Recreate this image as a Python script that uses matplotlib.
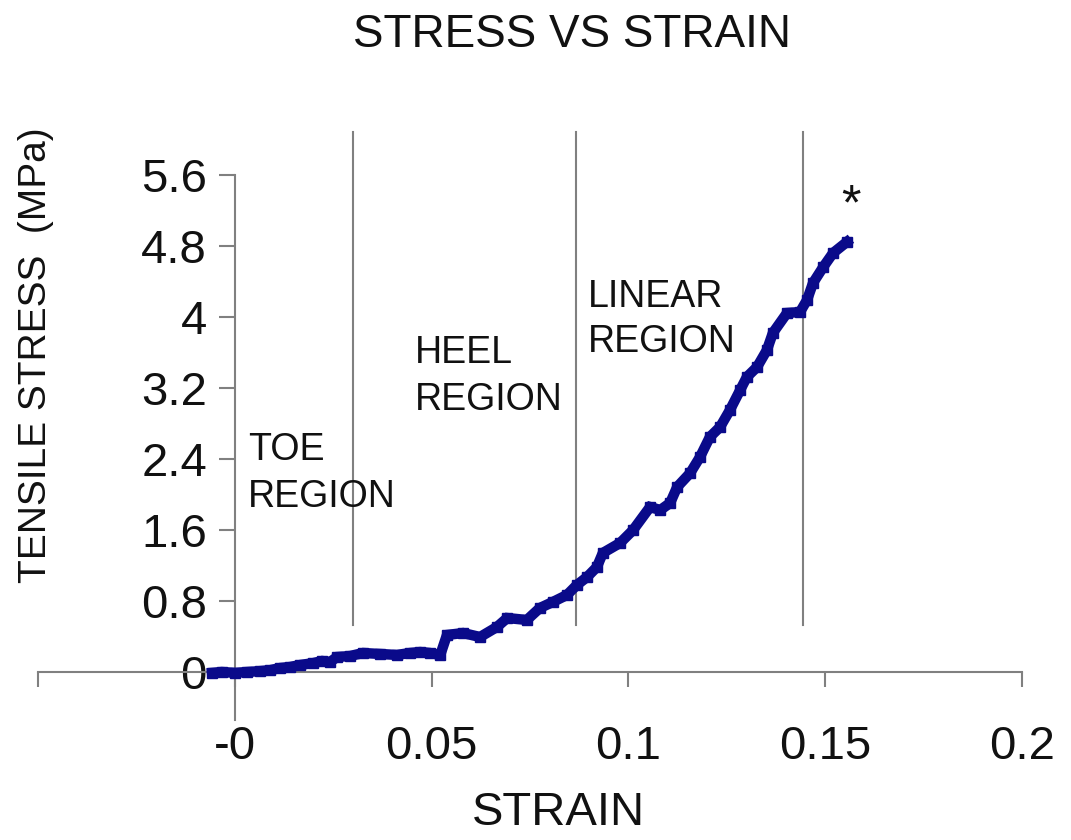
import matplotlib
matplotlib.use("Agg")
import matplotlib.pyplot as plt

plt.rcParams['font.family'] = ['Liberation Sans', 'DejaVu Sans']

# ---- data ----
strain = [-0.0058, -0.0033, 0.0001, 0.0031, 0.0064, 0.0089, 0.0115, 0.0140,
          0.0166, 0.0199, 0.0222, 0.0242, 0.0260, 0.0293, 0.0326, 0.0369,
          0.0412, 0.0445, 0.0471, 0.0496, 0.0522, 0.0539, 0.0580, 0.0623,
          0.0666, 0.0692, 0.0742, 0.0775, 0.0808, 0.0844, 0.0869, 0.0895,
          0.0920, 0.0935, 0.0979, 0.1012, 0.1055, 0.1081, 0.1106, 0.1124,
          0.1157, 0.1182, 0.1207, 0.1233, 0.1258, 0.1284, 0.1301, 0.1327,
          0.1352, 0.1367, 0.1403, 0.1436, 0.1454, 0.1469, 0.1495, 0.1520,
          0.1555]
stress = [-0.01, 0.00, -0.01, 0.00, 0.01, 0.02, 0.045, 0.056,
          0.079, 0.10, 0.124, 0.113, 0.169, 0.18, 0.214, 0.203,
          0.192, 0.214, 0.225, 0.214, 0.192, 0.417, 0.439, 0.394,
          0.507, 0.608, 0.586, 0.721, 0.789, 0.868, 0.98, 1.07,
          1.183, 1.341, 1.454, 1.60, 1.859, 1.825, 1.904, 2.085,
          2.242, 2.423, 2.648, 2.761, 2.952, 3.177, 3.324, 3.437,
          3.628, 3.82, 4.045, 4.056, 4.192, 4.383, 4.563, 4.721,
          4.845]

region_bounds = [0.0300, 0.0866, 0.1444]
region_line_range = [0.53, 6.08]

xticks = [-0.05, 0, 0.05, 0.1, 0.15, 0.2]
xticklabels = ['', '-0', '0.05', '0.1', '0.15', '0.2']
yticks = [0, 0.8, 1.6, 2.4, 3.2, 4.0, 4.8, 5.6]
yticklabels = ['0', '0.8', '1.6', '2.4', '3.2', '4', '4.8', '5.6']

# (text, x, baseline y)
region_labels = [
    ('TOE', 0.00335, 2.389), ('REGION', 0.00335, 1.859),
    ('HEEL', 0.0458, 3.482), ('REGION', 0.0458, 2.952),
    ('LINEAR', 0.0897, 4.113), ('REGION', 0.0897, 3.606),
]
failure_mark = ('*', 0.1566, 5.10)

title = 'STRESS VS STRAIN'
xlabel = 'STRAIN'
ylabel = 'TENSILE STRESS  (MPa)'

# ---- figure ----
fig = plt.figure(figsize=(10.71, 8.4), dpi=100)
ax = fig.add_axes([0.03548, 0.14286, 0.91877, 0.70166])
ax.set_xlim(-0.05, 0.2)
ax.set_ylim(-0.541, 6.1)

grey = '#808080'
ink = '#111111'
for s in ('top', 'right'):
    ax.spines[s].set_visible(False)
ax.spines['left'].set_position(('data', 0))
ax.spines['bottom'].set_position(('data', 0))
ax.spines['left'].set_bounds(-0.541, 5.6)
for s in ('left', 'bottom'):
    ax.spines[s].set_color(grey)
    ax.spines[s].set_linewidth(1.5)

ax.set_xticks(xticks)
ax.set_xticklabels(xticklabels)
ax.set_yticks(yticks)
ax.set_yticklabels(yticklabels)
ax.tick_params(axis='x', direction='out', length=11, width=1.5, color=grey,
               pad=27, labelsize=34, labelcolor=ink)
ax.tick_params(axis='y', direction='out', length=11.5, width=1.5, color=grey,
               pad=8.6, labelsize=34, labelcolor=ink)

for xb in region_bounds:
    ax.plot([xb, xb], region_line_range, color=grey, lw=1.5, zorder=2,
            clip_on=False)

ax.plot(strain, stress, color='#0a0a8a', lw=7.5, marker='s', ms=7,
        solid_joinstyle='miter', zorder=4, clip_on=False)

for txt, x, y in region_labels:
    ax.text(x, y, txt, fontsize=27, color=ink, ha='left', va='baseline')

ax.text(failure_mark[1], failure_mark[2], failure_mark[0], fontsize=36,
        color=ink, ha='center', va='baseline')

fig.text(0.5341, 0.944, title, fontsize=33, color=ink, ha='center',
         va='baseline')
fig.text(0.521, 0.0179, xlabel, fontsize=34, color=ink, ha='center',
         va='baseline')
fig.text(0.0336, 1 - 355 / 840, ylabel, fontsize=28, color=ink,
         rotation=90, ha='center', va='center')

fig.savefig('out.png', dpi=100)
